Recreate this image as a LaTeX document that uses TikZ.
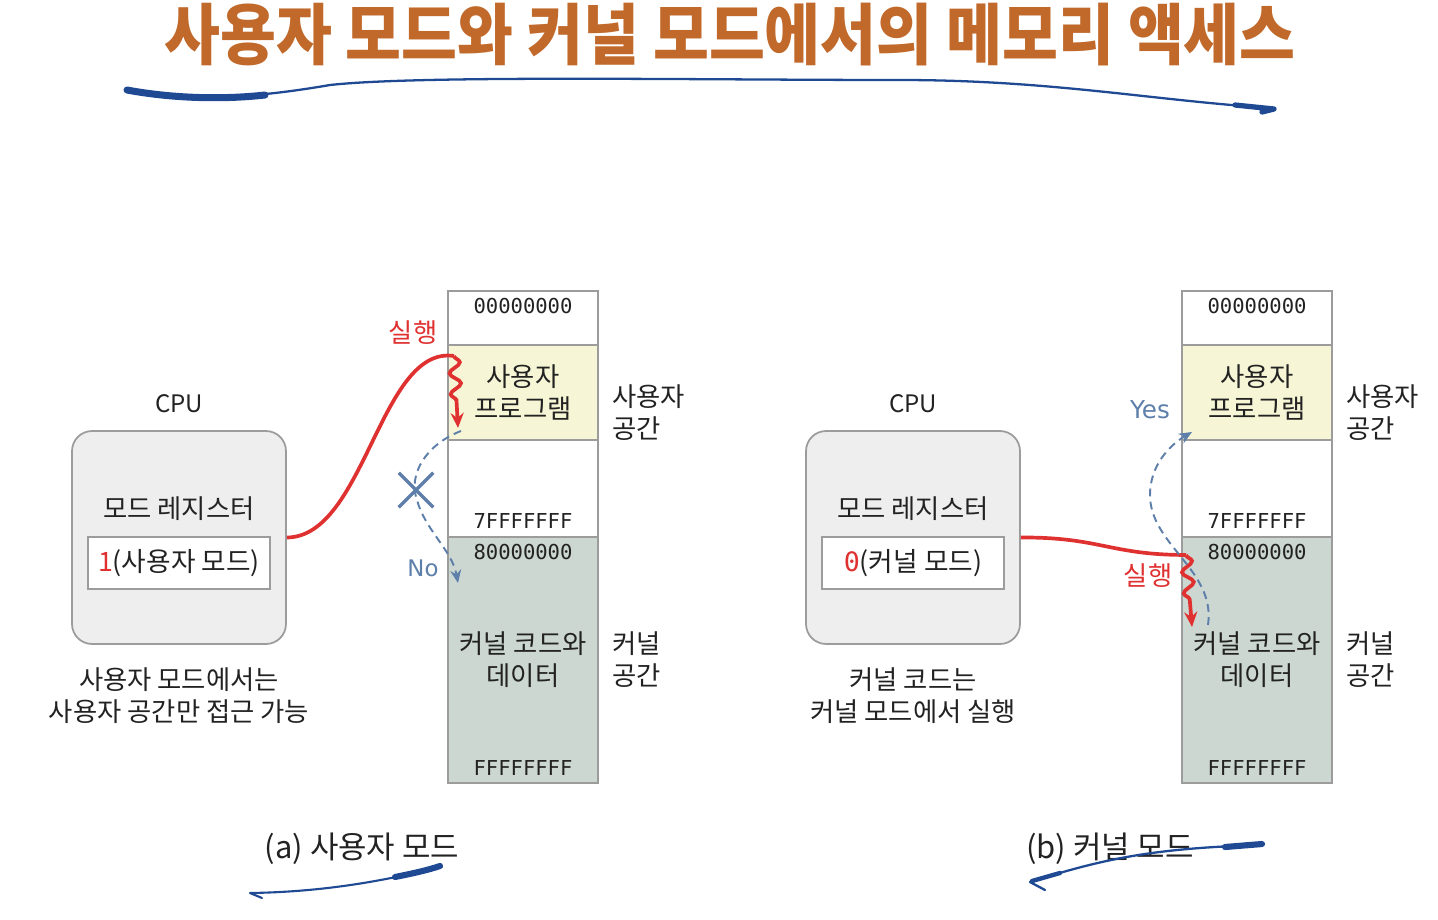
\documentclass[tikz,border=0pt]{standalone}
\usepackage{fontspec}
\usepackage{graphicx}
\usepackage{tikz}
\usetikzlibrary{arrows.meta,positioning,calc,shapes.misc,decorations.pathmorphing}
\setmainfont{Noto Sans CJK KR}
\newfontfamily\addrfont{DejaVu Sans Mono}
\newfontfamily\flowfont{DejaVu Sans}
\definecolor{titleorange}{HTML}{C0692A}
\definecolor{brushblue}{HTML}{1F4A93}
\definecolor{runred}{HTML}{E03131}
\definecolor{flowblue}{HTML}{5E7FAA}
\definecolor{memline}{HTML}{9C9C9C}
\definecolor{userfill}{HTML}{F6F6D6}
\definecolor{kernfill}{HTML}{CCD7D1}
\definecolor{cpufill}{HTML}{EEEEEE}
\definecolor{textgray}{HTML}{222222}

\begin{document}
\begin{tikzpicture}[
    x=0.02cm, y=-0.02cm,
    seg/.style={rectangle, draw=memline, line width=1.3pt, minimum width=3cm, inner sep=0pt, outer sep=0pt},
    cpu/.style={rectangle, rounded corners=0.4cm, draw=memline, fill=cpufill, line width=1pt, minimum width=4.28cm, minimum height=4.26cm},
    reg/.style={rectangle, draw=memline, fill=white, line width=1.5pt, minimum width=3.64cm, minimum height=1.04cm, font=\fontsize{15.2}{18}\selectfont, text=textgray},
    addr/.style={font=\addrfont\fontsize{11.7}{14}\selectfont, text=textgray},
    lbl/.style={font=\fontsize{15}{18.3}\selectfont, align=center, text=textgray},
    side/.style={lbl, align=left, anchor=west},
    subcap/.style={font=\fontsize{17.6}{20}\selectfont, text=textgray},
    run/.style={draw=runred, line width=2.1pt},
    wiggle/.style={run, decorate, decoration={snake, amplitude=1.1mm, segment length=4.2mm, post length=4.5mm}},
    check/.style={draw=flowblue, line width=1.1pt, dash pattern=on 4.5pt off 3pt, -{Stealth[length=2.6mm,width=2.2mm]}},
    flow/.style={font=\flowfont\fontsize{13}{15}\selectfont, text=flowblue},
    brush/.style={draw=brushblue, line cap=round, line join=round}
]
\useasboundingbox (0,0) rectangle (1438,920);

% Title
\node[font=\bfseries\fontsize{38}{40}\selectfont, text=titleorange] (title) at (730,35) {\scalebox{0.91}[1]{사용자 모드와 커널 모드에서의 메모리 액세스}};
\draw[brush, line width=1.3pt] (125,90) .. controls (200,102) and (260,97) .. (330,85) .. controls (420,75) and (700,80) .. (900,80) .. controls (1050,80) and (1150,100) .. (1270,108);
\draw[brush, line width=4pt] (127,90) .. controls (170,98) and (220,100) .. (265,95);
\draw[brush, line width=3pt] (1235,105) -- (1274,109) -- (1262,112);

% (a) user mode
\node[lbl, font=\fontsize{13.7}{16}\selectfont] (cpuLblA) at (179,404) {CPU};
\node[cpu] (cpuA) at (179,537.5) {};
\node[lbl] (modeA) at (179,509) {모드 레지스터};
\node[reg] (regA) at (179,563) {\textcolor{runred}{1}(사용자 모드)};
\node[lbl] (noteA) at (179,696) {사용자 모드에서는\\사용자 공간만 접근 가능};

\node[seg, minimum height=1.08cm, anchor=north] (topA) at (523,291) {};
\node[seg, fill=userfill, minimum height=1.9cm, below=0pt of topA] (progA) {};
\node[seg, minimum height=1.94cm, below=0pt of progA] (freeA) {};
\node[seg, fill=kernfill, minimum height=4.92cm, below=0pt of freeA] (kernA) {};
\node[addr] (firstA) at (523,306) {00000000};
\node[lbl] (progTxtA) at (progA) {사용자\\프로그램};
\node[addr] (midA) at (523,521) {7FFFFFFF};
\node[addr] (kstartA) at (523,552) {80000000};
\node[lbl] (kernTxtA) at (kernA) {커널 코드와\\데이터};
\node[addr] (lastA) at (523,768) {FFFFFFFF};
\node[side] (userSpA) at (606,413) {사용자\\공간};
\node[side] (kernSpA) at (606,660) {커널\\공간};

\coordinate (runA) at ($(progA.north west)+(6,11)$);
\draw[run] (cpuA.east) .. controls (365,537) and (380,345) .. (runA);
\draw[wiggle, -{Stealth[length=3mm,width=2.6mm]}] (runA) -- ($(progA.south west)+(10,-12)$);
\node[font=\fontsize{15}{17}\selectfont, text=runred] (runLblA) at (413,333) {실행};

\coordinate (chkA) at ($(progA.south west)+(13,-9)$);
\coordinate (chkEndA) at ($(kernA.north west)+(10,46)$);
\draw[check] (chkA) .. controls (425,445) and (408,475) .. (417,500) .. controls (425,530) and (452,550) .. (chkEndA);
\node[cross out, draw=flowblue, line width=2pt, minimum size=0.62cm, inner sep=0pt] (noA) at (416,490) {};
\node[flow] (noLblA) at (423,568) {No};

\node[subcap] (capA) at (362,849) {(a) 사용자 모드};
\draw[brush, line width=1.2pt] (262,898) -- (250,893) .. controls (320,892) and (380,882) .. (440,867);
\draw[brush, line width=3.5pt] (395,877) .. controls (415,873) and (428,870) .. (440,866);

% (b) kernel mode
\node[lbl, font=\fontsize{13.7}{16}\selectfont] (cpuLblB) at (913,404) {CPU};
\node[cpu] (cpuB) at (913,537.5) {};
\node[lbl] (modeB) at (913,509) {모드 레지스터};
\node[reg] (regB) at (913,563) {\textcolor{runred}{\addrfont 0}(커널 모드)};
\node[lbl] (noteB) at (913,696) {커널 코드는\\커널 모드에서 실행};

\node[seg, minimum height=1.08cm, anchor=north] (topB) at (1257,291) {};
\node[seg, fill=userfill, minimum height=1.9cm, below=0pt of topB] (progB) {};
\node[seg, minimum height=1.94cm, below=0pt of progB] (freeB) {};
\node[seg, fill=kernfill, minimum height=4.92cm, below=0pt of freeB] (kernB) {};
\node[addr] (firstB) at (1257,306) {00000000};
\node[lbl] (progTxtB) at (progB) {사용자\\프로그램};
\node[addr] (midB) at (1257,521) {7FFFFFFF};
\node[addr] (kstartB) at (1257,552) {80000000};
\node[lbl] (kernTxtB) at (kernB) {커널 코드와\\데이터};
\node[addr] (lastB) at (1257,768) {FFFFFFFF};
\node[side] (userSpB) at (1340,413) {사용자\\공간};
\node[side] (kernSpB) at (1340,660) {커널\\공간};

\coordinate (runB) at ($(kernB.north west)+(4,18)$);
\draw[run] (cpuB.east) .. controls (1100,537) and (1110,555) .. (runB);
\draw[wiggle, -{Stealth[length=3mm,width=2.6mm]}] (runB) -- ($(kernB.north west)+(10,90)$);
\node[font=\fontsize{15}{17}\selectfont, text=runred] (runLblB) at (1148,576) {실행};

\coordinate (chkB) at ($(kernB.north west)+(26,88)$);
\coordinate (chkEndB) at ($(progB.south west)+(10,-8)$);
\draw[check] (chkB) .. controls (1216,570) and (1150,545) .. (1150,495) .. controls (1150,465) and (1170,445) .. (chkEndB);
\node[flow, font=\flowfont\fontsize{14}{16}\selectfont] (yesLblB) at (1150,410) {Yes};

\node[subcap] (capB) at (1110,849) {(b) 커널 모드};
\draw[brush, line width=1.3pt] (1045,890) -- (1030,882) .. controls (1100,860) and (1150,848) .. (1262,845);
\draw[brush, line width=3.5pt] (1225,847) -- (1262,844);
\draw[brush, line width=2.5pt] (1032,881) -- (1060,873);

\end{tikzpicture}
\end{document}
